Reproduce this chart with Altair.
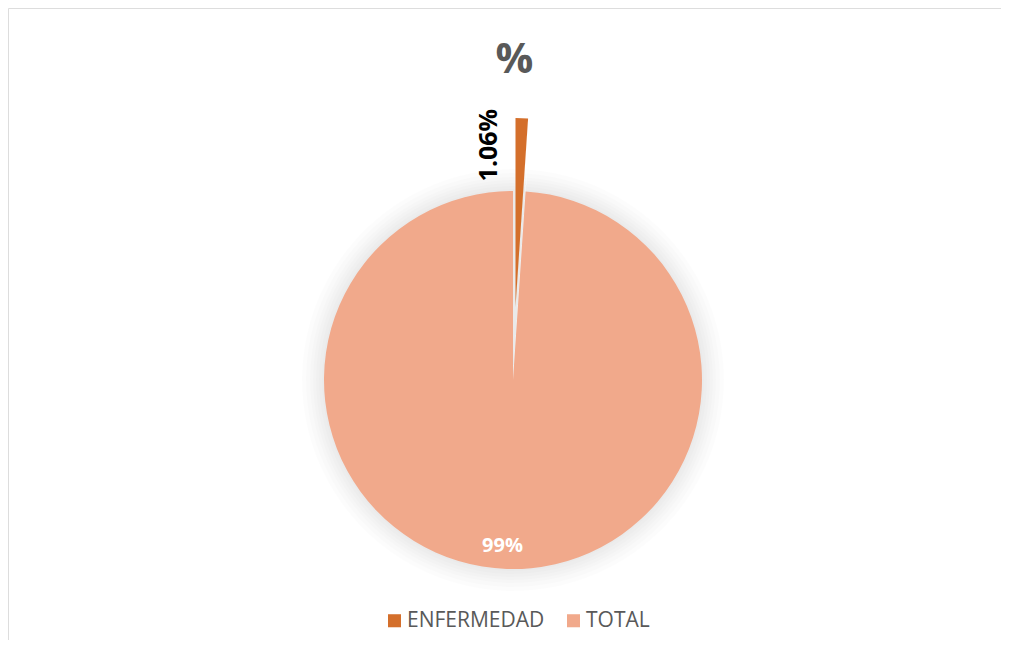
import altair as alt
import pandas as pd

categories = ["ENFERMEDAD", "TOTAL"]
values = [1.06, 98.94]
labels = ["1.06%", "99%"]
order = [0, 1]
colors = ["#D46F2B", "#F1A98B"]

df = pd.DataFrame({"cat": categories, "val": values, "label": labels, "ord": order})

CX, CY, R = 505, 372, 189
FONT = "Open Sans"

base = alt.Chart(df).encode(
    theta=alt.Theta("val:Q", stack=True),
    order=alt.Order("ord:Q"),
    x=alt.value(CX),
    y=alt.value(CY),
)

color = alt.Color(
    "cat:N",
    scale=alt.Scale(domain=categories, range=colors),
    legend=alt.Legend(
        title=None, orient="none", legendX=376, legendY=602,
        direction="horizontal", symbolType="square", symbolSize=170,
        labelFont=FONT, labelFontSize=21, labelColor="#595959",
        columnPadding=18, symbolStrokeWidth=0, labelOffset=2,
    ),
)

glow = [
    base.mark_arc(radius=R + k, color="#000000", opacity=0.012)
    for k in (2, 5, 8, 11, 14, 18, 22)
]

pie = base.mark_arc(radius=R).encode(
    color=color,
    opacity=alt.condition("datum.cat == 'TOTAL'", alt.value(1), alt.value(0)),
)

explode = base.mark_arc(radius=R, xOffset=2.5, yOffset=-73).encode(
    color=color,
    opacity=alt.condition("datum.cat == 'ENFERMEDAD'", alt.value(1), alt.value(0)),
)

lab_small = base.transform_calculate(
    t="datum.cat == 'ENFERMEDAD' ? datum.label : ''"
).mark_text(
    radius=235, angle=270, dy=-32, font=FONT, fontSize=25,
    fontWeight="bold", color="#000000"
).encode(text="t:N")

lab_big = base.transform_calculate(
    t="datum.cat == 'TOTAL' ? datum.label : ''"
).mark_text(
    radius=166, dx=-5, font=FONT, fontSize=20, fontWeight="bold", color="#FFFFFF"
).encode(text="t:N")

chart = alt.layer(*glow, pie, explode, lab_small, lab_big).properties(
    width=993,
    height=632,
    padding=0,
    autosize=alt.AutoSizeParams(type="none"),
    title=alt.TitleParams(
        "%", orient="top", anchor="middle", offset=-74, dx=10, font=FONT,
        fontSize=42, fontWeight="bold", color="#595959",
    ),
).configure_view(stroke="#D9D9D9", strokeWidth=1.5).configure(background="#FFFFFF")

chart.save("out.html", embed_options={"renderer": "svg", "actions": False})
